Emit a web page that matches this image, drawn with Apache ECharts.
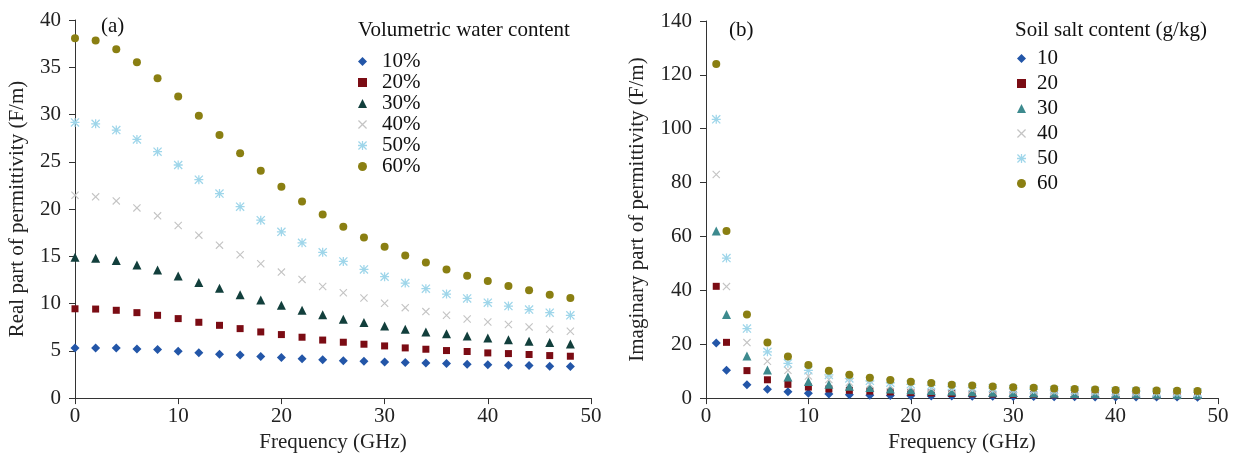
<!DOCTYPE html>
<html>
<head>
<meta charset="utf-8">
<script src="https://cdn.jsdelivr.net/npm/echarts@6/dist/echarts.min.js"></script>
<style>
  html, body { margin: 0; padding: 0; background: #fff; }
  #chart { width: 1239px; height: 458px; }
</style>
</head>
<body>
<div id="chart"></div>
<script>
// panel (a): real part vs frequency, by volumetric water content
const freqA = [0, 2, 4, 6, 8, 10, 12, 14, 16, 18, 20, 22, 24, 26, 28, 30, 32, 34, 36, 38, 40, 42, 44, 46, 48];
const namesA = ['10%', '20%', '30%', '40%', '50%', '60%'];
const real10 = [5.3, 5.3, 5.3, 5.2, 5.15, 4.95, 4.8, 4.65, 4.55, 4.4, 4.3, 4.15, 4.07, 3.95, 3.9, 3.83, 3.76, 3.72, 3.66, 3.59, 3.52, 3.48, 3.45, 3.38, 3.34];
const real20 = [9.45, 9.42, 9.29, 9.04, 8.76, 8.41, 8.02, 7.7, 7.35, 7.0, 6.72, 6.44, 6.14, 5.91, 5.7, 5.52, 5.31, 5.17, 5.03, 4.93, 4.78, 4.71, 4.61, 4.5, 4.43];
const real30 = [14.9, 14.8, 14.56, 14.07, 13.54, 12.91, 12.24, 11.61, 10.94, 10.38, 9.82, 9.29, 8.82, 8.34, 7.99, 7.63, 7.28, 7.0, 6.82, 6.58, 6.37, 6.16, 6.02, 5.87, 5.73];
const real40 = [21.46, 21.29, 20.86, 20.12, 19.28, 18.26, 17.24, 16.18, 15.16, 14.21, 13.33, 12.56, 11.81, 11.15, 10.59, 10.03, 9.57, 9.15, 8.76, 8.37, 8.05, 7.78, 7.53, 7.28, 7.07];
const real50 = [29.16, 29.02, 28.36, 27.37, 26.07, 24.66, 23.11, 21.64, 20.25, 18.82, 17.59, 16.43, 15.42, 14.46, 13.61, 12.84, 12.17, 11.58, 11.01, 10.55, 10.1, 9.74, 9.36, 9.04, 8.76];
const real60 = [38.07, 37.82, 36.91, 35.53, 33.84, 31.91, 29.87, 27.83, 25.89, 24.06, 22.36, 20.79, 19.43, 18.12, 16.99, 16.01, 15.09, 14.35, 13.61, 12.95, 12.38, 11.85, 11.4, 10.94, 10.59];

// panel (b): imaginary part vs frequency, by soil salt content
const freqB = [1, 2, 4, 6, 8, 10, 12, 14, 16, 18, 20, 22, 24, 26, 28, 30, 32, 34, 36, 38, 40, 42, 44, 46, 48];
const namesB = ['10', '20', '30', '40', '50', '60'];
const imag10 = [20.5, 10.3, 5.0, 3.3, 2.4, 1.8, 1.5, 1.2, 1.1, 1.0, 0.9, 0.8, 0.75, 0.7, 0.65, 0.6, 0.55, 0.5, 0.5, 0.45, 0.45, 0.4, 0.4, 0.4, 0.35];
const imag20 = [41.5, 20.7, 10.2, 6.8, 5.1, 4.1, 3.4, 2.9, 2.6, 2.3, 2.1, 1.9, 1.7, 1.6, 1.5, 1.4, 1.3, 1.2, 1.1, 1.1, 1.0, 1.0, 0.9, 0.9, 0.85];
const imag30 = [62, 31, 15.6, 10.4, 7.8, 6.2, 5.1, 4.4, 3.9, 3.4, 3.1, 2.8, 2.6, 2.4, 2.2, 2.1, 1.9, 1.8, 1.7, 1.6, 1.5, 1.5, 1.4, 1.3, 1.3];
const imag40 = [83, 41.4, 20.6, 13.7, 10.3, 8.2, 6.9, 5.9, 5.1, 4.6, 4.1, 3.7, 3.4, 3.2, 2.9, 2.7, 2.6, 2.4, 2.3, 2.2, 2.0, 1.9, 1.9, 1.8, 1.7];
const imag50 = [103.5, 52, 25.8, 17.2, 12.9, 10.3, 8.6, 7.3, 6.4, 5.7, 5.1, 4.7, 4.3, 3.9, 3.7, 3.4, 3.2, 3.0, 2.9, 2.7, 2.6, 2.5, 2.3, 2.2, 2.1];
const imag60 = [124, 62, 31, 20.6, 15.4, 12.3, 10.2, 8.7, 7.6, 6.7, 6.1, 5.6, 5.0, 4.7, 4.3, 4.0, 3.8, 3.6, 3.4, 3.2, 3.0, 2.9, 2.8, 2.7, 2.6];

const FONT = 'Liberation Serif';
const crossPath = 'path://M0,1 L1,0 L10,9 L9,10 Z M9,0 L10,1 L1,10 L0,9 Z';
const starPath = 'path://M0,1 L1,0 L10,9 L9,10 Z M9,0 L10,1 L1,10 L0,9 Z M4.3,0 L5.7,0 L5.7,10 L4.3,10 Z M0,4.3 L10,4.3 L10,5.7 L0,5.7 Z';
const symbols = ['diamond', 'rect', 'triangle', crossPath, starPath, 'circle'];
const sizes = [9, 7, 9, 8, 9, 8];
const colorsA = ['#2356a8', '#7b0c14', '#123f3c', '#c4c4c4', '#9fd6ea', '#8a7f12'];
const colorsB = ['#2356a8', '#7b0c14', '#3d8a8e', '#c4c4c4', '#9fd6ea', '#8a7f12'];

const pairs = (xs, ys) => xs.map((x, i) => [x, ys[i]]);
const seriesA = [real10, real20, real30, real40, real50, real60];
const seriesB = [imag10, imag20, imag30, imag40, imag50, imag60];

const axisCommon = {
  axisLine: { lineStyle: { color: '#333', width: 1 } },
  axisTick: { show: true, inside: false, length: 6, lineStyle: { color: '#333' } },
  axisLabel: { fontFamily: FONT, fontSize: 21, color: '#222', margin: 8 },
  splitLine: { show: false },
  nameTextStyle: { fontFamily: FONT, fontSize: 21, color: '#222' }
};
const yLabel = { fontFamily: FONT, fontSize: 21, color: '#222', margin: 14 };

let chart = echarts.init(document.getElementById('chart'));
let option = {
  backgroundColor: '#ffffff',
  animation: false,
  grid: [
    { left: 75, top: 20, width: 516, height: 379 },
    { left: 706, top: 21, width: 512, height: 378 }
  ],
  xAxis: [
    Object.assign({}, axisCommon, {
      gridIndex: 0, type: 'value', min: 0, max: 50, interval: 10,
      name: 'Frequency (GHz)', nameLocation: 'middle', nameGap: 31
    }),
    Object.assign({}, axisCommon, {
      gridIndex: 1, type: 'value', min: 0, max: 50, interval: 10,
      name: 'Frequency (GHz)', nameLocation: 'middle', nameGap: 31
    })
  ],
  yAxis: [
    Object.assign({}, axisCommon, {
      gridIndex: 0, type: 'value', min: 0, max: 40, interval: 5, axisLabel: yLabel,
      name: 'Real part of permittivity (F/m)', nameLocation: 'middle', nameGap: 47
    }),
    Object.assign({}, axisCommon, {
      gridIndex: 1, type: 'value', min: 0, max: 140, interval: 20, axisLabel: yLabel,
      name: 'Imaginary part of permittivity (F/m)', nameLocation: 'middle', nameGap: 58
    })
  ],
  legend: [
    {
      data: namesA, orient: 'vertical', left: 353, top: 46,
      itemWidth: 9, itemHeight: 9, itemGap: 0,
      textStyle: { fontFamily: FONT, fontSize: 21, color: '#111', padding: [0, 0, 0, 10] }
    },
    {
      data: namesB, orient: 'vertical', left: 1012, top: 43,
      itemWidth: 9, itemHeight: 9, itemGap: 4,
      textStyle: { fontFamily: FONT, fontSize: 21, color: '#111', padding: [0, 0, 0, 6] }
    }
  ],
  graphic: [
    { type: 'text', left: 358, top: 20, style: { text: 'Volumetric water content', font: '21px "Liberation Serif"', fill: '#111' } },
    { type: 'text', left: 1015, top: 20, style: { text: 'Soil salt content (g/kg)', font: '21px "Liberation Serif"', fill: '#111' } },
    { type: 'text', left: 101, top: 16, style: { text: '(a)', font: '21px "Liberation Serif"', fill: '#111' } },
    { type: 'text', left: 729, top: 20, style: { text: '(b)', font: '21px "Liberation Serif"', fill: '#111' } }
  ],
  series: []
};

seriesA.forEach((ys, k) => {
  option.series.push({
    name: namesA[k], type: 'scatter', xAxisIndex: 0, yAxisIndex: 0,
    symbol: symbols[k], symbolSize: sizes[k],
    itemStyle: { color: colorsA[k], opacity: 1 },
    data: pairs(freqA, ys)
  });
});
seriesB.forEach((ys, k) => {
  option.series.push({
    name: namesB[k], type: 'scatter', xAxisIndex: 1, yAxisIndex: 1,
    symbol: symbols[k], symbolSize: sizes[k],
    itemStyle: { color: colorsB[k], opacity: 1 },
    data: pairs(freqB, ys)
  });
});

chart.setOption(option);
</script>
</body>
</html>
